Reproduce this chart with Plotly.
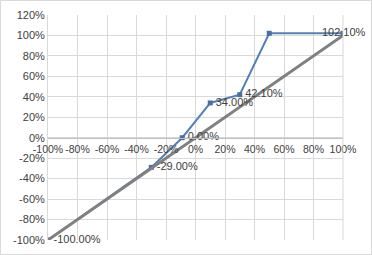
import plotly.graph_objects as go

# data (percent units)
blue_x = [-100, -30, -9, 10, 30, 50, 82, 100]
blue_y = [-100, -29, 0, 34, 42.1, 102.1, 102.1, 102.1]
blue_labels = ["-100.00%", "-29.00%", "0.00%", "34.00%", "42.10%", "", "102.10%", ""]
ref_x = [-100, 100]
ref_y = [-100, 100]
x_ticks = [-100, -80, -60, -40, -20, 0, 20, 40, 60, 80, 100]
y_ticks = [-100, -80, -60, -40, -20, 0, 20, 40, 60, 80, 100, 120]

fam = "Liberation Sans, Arial, sans-serif"
txt = "#404040"

fig = go.Figure()
fig.add_trace(go.Scatter(
    x=blue_x, y=blue_y, mode="lines+markers",
    line=dict(color="#5380B5", width=2),
    marker=dict(symbol="square", size=5, color="#4A6FA0",
                opacity=[1, 1, 1, 1, 1, 1, 0, 1]),
    showlegend=False,
))
fig.add_trace(go.Scatter(
    x=ref_x, y=ref_y, mode="lines",
    line=dict(color="#808080", width=3),
    showlegend=False,
))
fig.add_trace(go.Scatter(
    x=blue_x, y=blue_y, mode="text",
    text=["\u2002" + s if s else "" for s in blue_labels],
    textposition="middle right",
    textfont=dict(family=fam, size=11, color=txt),
    cliponaxis=False, showlegend=False, hoverinfo="skip",
))

W, H = 372, 255
l, r, t, b = 48, 29, 15, 15
pw, ph = W - l - r, H - t - b

fig.update_layout(
    width=W, height=H,
    margin=dict(l=l, r=r, t=t, b=b, autoexpand=False),
    paper_bgcolor="white", plot_bgcolor="white",
    font=dict(family=fam, size=11, color=txt),
    xaxis=dict(
        range=[-100, 100], tickvals=x_ticks, ticktext=[f"{v}%" for v in x_ticks],
        showgrid=True, gridcolor="#D9D9D9", gridwidth=1,
        zeroline=False, showline=True, linecolor="#BFBFBF",
        anchor="free", position=100 / 220, ticks="", ticklen=0,
        tickangle=0, automargin=False, ticklabelstandoff=2,
        tickfont=dict(family=fam, size=10.5, color=txt),
    ),
    yaxis=dict(
        range=[-100, 120], tickvals=y_ticks, ticktext=[f"{v}%" for v in y_ticks],
        showgrid=True, gridcolor="#D9D9D9", gridwidth=1,
        zeroline=False, showline=True, linecolor="#D9D9D9",
        ticks="", automargin=False,
        tickfont=dict(family=fam, size=11, color=txt),
    ),
    shapes=[dict(
        type="rect", xref="paper", yref="paper",
        x0=(0.5 - l) / pw, x1=(W - 0.5 - l) / pw,
        y0=-(b - 0.5) / ph, y1=1 + (t - 0.5) / ph,
        line=dict(color="#D9D9D9", width=1),
    ), dict(
        type="line", xref="paper", yref="paper",
        x0=1, x1=1, y0=0, y1=1, line=dict(color="#D9D9D9", width=1),
    )],
)

fig.write_html("out.html")
